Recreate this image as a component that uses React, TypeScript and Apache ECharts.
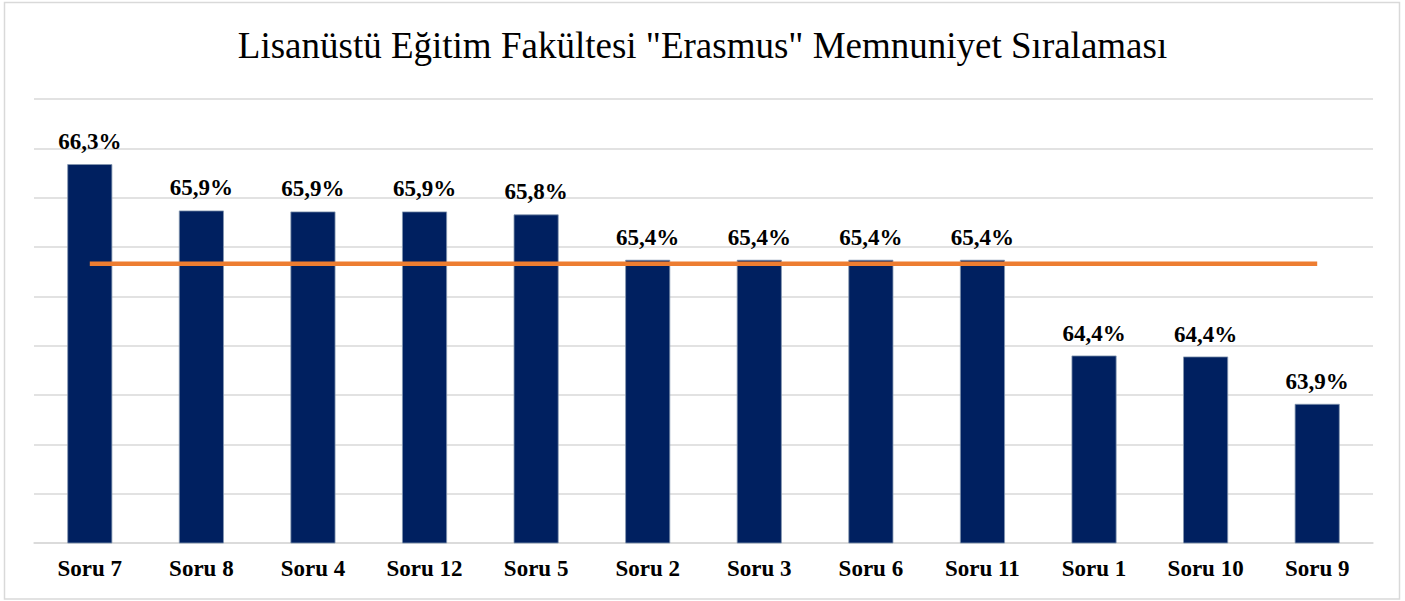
import React, { useEffect, useRef } from "react";
import * as echarts from "echarts";

const categories = ["Soru 7", "Soru 8", "Soru 4", "Soru 12", "Soru 5", "Soru 2", "Soru 3", "Soru 6", "Soru 11", "Soru 1", "Soru 10", "Soru 9"];
const satisfaction = [66.34, 65.87, 65.86, 65.86, 65.83, 65.37, 65.37, 65.37, 65.37, 64.4, 64.39, 63.91];
const averageLine = [65.33, 65.33, 65.33, 65.33, 65.33, 65.33, 65.33, 65.33, 65.33, 65.33, 65.33, 65.33];
const titleText = 'Lisanüstü Eğitim Fakültesi "Erasmus" Memnuniyet Sıralaması';

const SERIF = '"Liberation Serif", "Times New Roman", serif';

export default function App() {
  const ref = useRef<HTMLDivElement>(null);
  useEffect(() => {
    if (!ref.current) return;
    const chart = echarts.init(ref.current, undefined, { renderer: "svg" });
    chart.setOption({
      animation: false,
      backgroundColor: "#ffffff",
      title: {
        text: titleText,
        left: "center",
        top: 22,
        textStyle: { fontFamily: SERIF, fontSize: 37, fontWeight: "normal", color: "#000000" },
      },
      graphic: [
        {
          type: "rect",
          shape: { x: 4.5, y: 2.5, width: 1395, height: 596.5 },
          style: { fill: "none", stroke: "#d9d9d9", lineWidth: 1.5 },
          silent: true,
        },
      ],
      grid: { left: 34, right: 32, top: 99, bottom: 58 },
      xAxis: {
        type: "category",
        data: categories,
        axisLine: { show: true, lineStyle: { color: "#d9d9d9", width: 1.5 } },
        axisTick: { show: false },
        axisLabel: {
          fontFamily: SERIF,
          fontSize: 23,
          fontWeight: "bold",
          color: "#000000",
          margin: 14,
          interval: 0,
        },
      },
      yAxis: {
        type: "value",
        min: 62.5,
        max: 67,
        interval: 0.5,
        axisLabel: { show: false },
        axisLine: { show: false },
        axisTick: { show: false },
        splitLine: { show: true, lineStyle: { color: "#d9d9d9", width: 1.5 } },
      },
      series: [
        {
          type: "bar",
          data: satisfaction,
          barWidth: 45,
          itemStyle: { color: "#002060", borderColor: "#8497b0", borderWidth: 0.8 },
          label: {
            show: true,
            position: "top",
            distance: 11,
            fontFamily: SERIF,
            fontSize: 23,
            fontWeight: "bold",
            color: "#000000",
            formatter: (p: any) => p.value.toFixed(1).replace(".", ",") + "%",
          },
          z: 2,
        },
        {
          type: "line",
          data: averageLine,
          symbol: "none",
          lineStyle: { color: "#ED7D31", width: 4.5 },
          z: 3,
        },
      ],
    });
    return () => chart.dispose();
  }, []);
  return (
    <div
      ref={ref}
      style={{ position: "fixed", left: 0, top: 0, width: 1405, height: 601 }}
    />
  );
}
